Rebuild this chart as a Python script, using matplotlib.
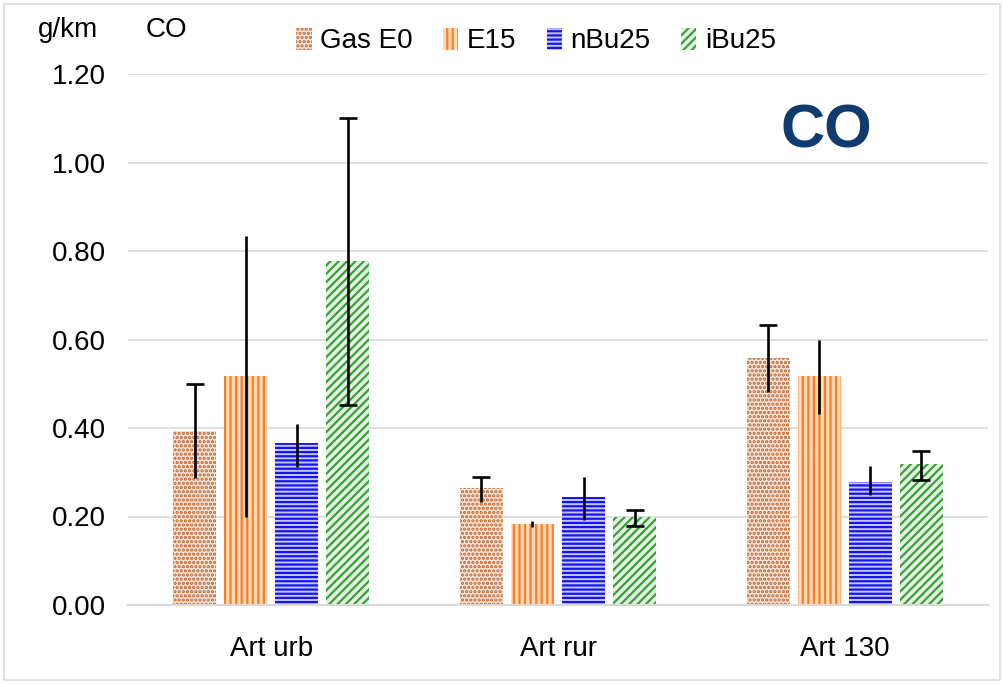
import matplotlib.pyplot as plt
import numpy as np
from matplotlib.patches import Rectangle

plt.rcParams['font.family'] = ['Liberation Sans', 'DejaVu Sans']
plt.rcParams['hatch.linewidth'] = 1.6

categories = ["Art urb", "Art rur", "Art 130"]
series = ["Gas E0", "E15", "nBu25", "iBu25"]

gas_e0 = [0.393, 0.264, 0.558]
e15 = [0.517, 0.183, 0.517]
nbu25 = [0.366, 0.244, 0.278]
ibu25 = [0.777, 0.199, 0.319]

# error bar ends (absolute values)
gas_e0_lo = [0.287, 0.233, 0.481]
gas_e0_hi = [0.499, 0.289, 0.633]
e15_lo = [0.199, 0.177, 0.432]
e15_hi = [0.834, 0.190, 0.599]
nbu25_lo = [0.312, 0.192, 0.249]
nbu25_hi = [0.409, 0.289, 0.314]
ibu25_lo = [0.452, 0.179, 0.282]
ibu25_hi = [1.100, 0.215, 0.348]

values = [gas_e0, e15, nbu25, ibu25]
lows = [gas_e0_lo, e15_lo, nbu25_lo, ibu25_lo]
highs = [gas_e0_hi, e15_hi, nbu25_hi, ibu25_hi]

hatches = ["....", "|||", "----", "////"]
hatch_colors = ["#C0622B", "#FF7F1E", "#1414F0", "#3A9E3A"]
face_colors = ["#F6E6DC", "#FFD9BC", "#C8C8FF", "#E4F2E4"]
top_cap = [True, False, False, True]
bottom_cap = [False, False, False, True]

fig = plt.figure(figsize=(10.04, 6.84), dpi=100)
ax = fig.add_axes([128 / 1004, 1 - 605 / 684, (988 - 128) / 1004, (605 - 74) / 684])

x = np.arange(len(categories))
width = 0.15
step = 0.178
for i, name in enumerate(series):
    pos = x + (i - 1.5) * step
    ax.bar(pos, values[i], width, color=face_colors[i], edgecolor=hatch_colors[i],
           hatch=hatches[i], linewidth=0, label=name, zorder=2)
    val = np.array(values[i])
    lo = val - np.array(lows[i])
    hi = np.array(highs[i]) - val
    ax.errorbar(pos, val, yerr=[lo, hi], fmt='none', ecolor='black',
                elinewidth=1.9, capsize=0, zorder=3)
    if top_cap[i]:
        ax.plot(pos, highs[i], linestyle='none', marker='_', markersize=13,
                markeredgewidth=1.9, color='black', zorder=3)
    if bottom_cap[i]:
        ax.plot(pos, lows[i], linestyle='none', marker='_', markersize=13,
                markeredgewidth=1.9, color='black', zorder=3)

ax.set_xlim(-0.5, 2.5)
ax.set_ylim(0, 1.2)
ax.set_yticks(np.arange(0, 1.21, 0.2))
ax.set_yticklabels([f"{v:.2f}" for v in np.arange(0, 1.21, 0.2)])
ax.set_xticks(x)
ax.set_xticklabels(categories)
ax.tick_params(axis='both', length=0, labelsize=20)
ax.tick_params(axis='y', pad=16)
ax.tick_params(axis='x', pad=22)
ax.grid(axis='y', color='#D9D9D9', linewidth=1.2, zorder=0)
ax.set_axisbelow(True)
for s in ['top', 'right', 'left']:
    ax.spines[s].set_visible(False)
ax.spines['bottom'].set_color('#D9D9D9')
ax.spines['bottom'].set_linewidth(1.5)

fig.text(38 / 1004, 1 - 30 / 684, "g/km", fontsize=20, va='center', ha='left')
fig.text(146 / 1004, 1 - 30 / 684, "CO", fontsize=20, va='center', ha='left')
ax.text(826 / 1004, 1 - 132 / 684, "CO", transform=fig.transFigure, fontsize=44,
        fontweight='bold', color='#0F3B6E', ha='center', va='center')

fig.legend(loc='center', bbox_to_anchor=(536 / 1004, 1 - 41 / 684), ncol=4,
           frameon=False, fontsize=20, handlelength=0.55, handleheight=0.85,
           handletextpad=0.3, columnspacing=1.1)

fig.patches.append(Rectangle((4 / 1004, 4 / 684), 996 / 1004, 676 / 684,
                             transform=fig.transFigure, fill=False,
                             edgecolor='#D9D9D9', linewidth=1.2))

fig.savefig("out.png", dpi=100)
